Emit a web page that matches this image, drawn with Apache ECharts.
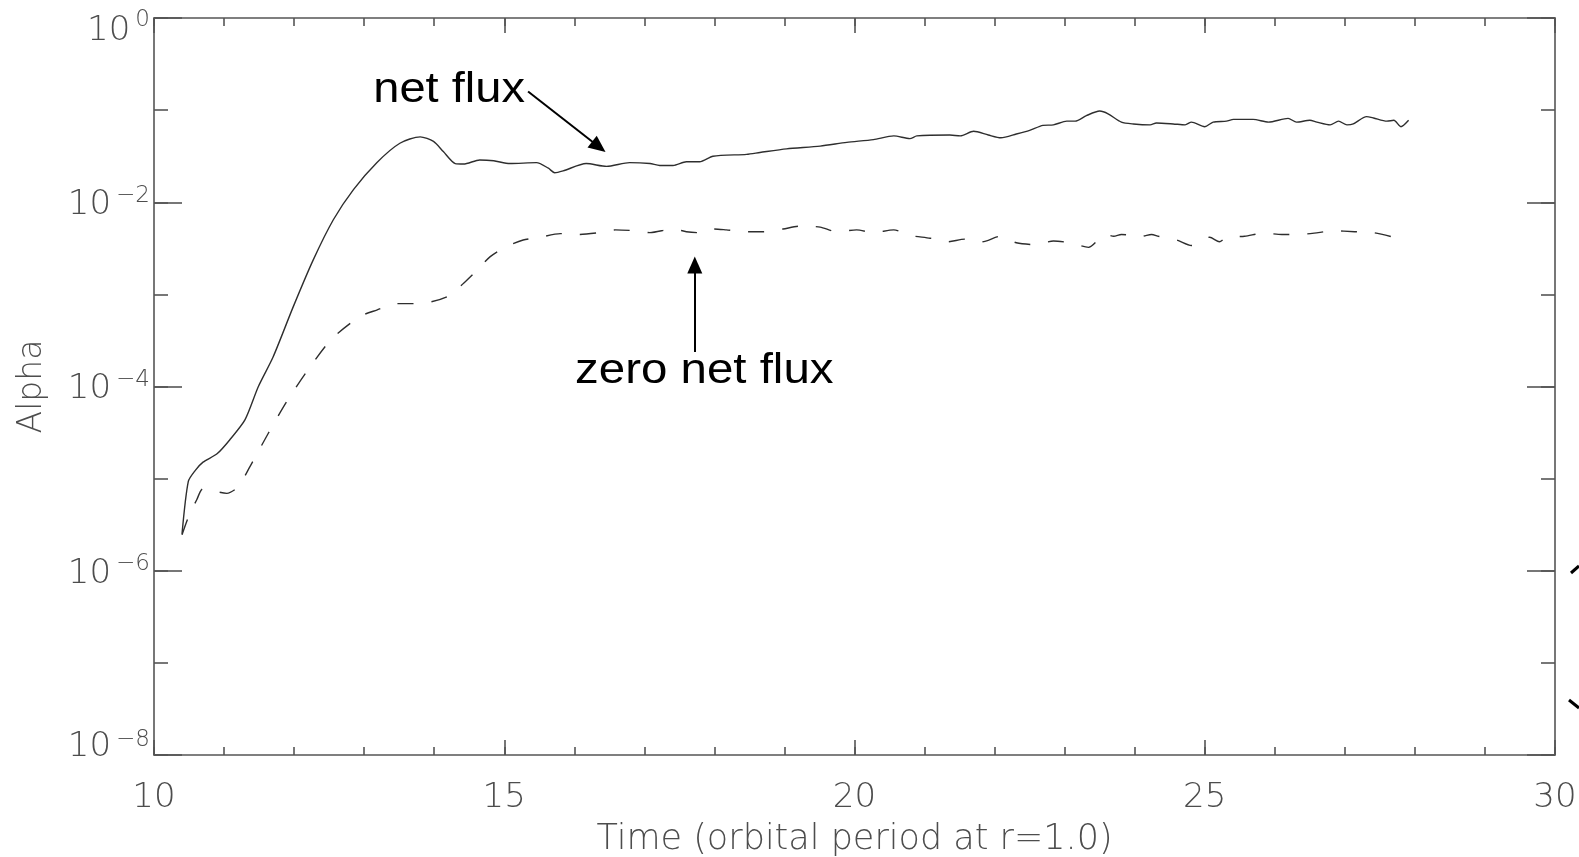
<!DOCTYPE html>
<html>
<head>
<meta charset="utf-8">
<title>Alpha vs time</title>
<script src="https://cdn.jsdelivr.net/npm/echarts@6/dist/echarts.min.js"></script>
<style>
  html, body { margin: 0; padding: 0; background: #fff; }
  #chart { width: 1579px; height: 857px; }
</style>
</head>
<body>
<div id="chart"></div>
<script>
// net flux run: time (orbital periods at r=1.0) and alpha
const netFluxTime = [10.40, 10.49, 10.59, 10.70, 10.90, 11.08, 11.30, 11.49, 11.70, 11.99,
  12.27, 12.56, 12.85, 13.18, 13.51, 13.80, 13.99, 14.13, 14.30, 14.42,
  14.65, 14.85, 15.08, 15.46, 15.63, 15.72, 15.84, 16.17, 16.46, 16.79,
  17.08, 17.22, 17.41, 17.60, 17.79, 17.98, 18.46, 18.65, 19.03, 19.51,
  19.89, 20.27, 20.56, 20.79, 20.89, 21.36, 21.51, 21.70, 21.91, 22.09,
  22.31, 22.50, 22.69, 22.84, 23.03, 23.15, 23.31, 23.50, 23.62, 23.81,
  23.98, 24.22, 24.31, 24.55, 24.72, 24.81, 25.00, 25.12, 25.31, 25.41,
  25.69, 25.91, 26.19, 26.31, 26.50, 26.60, 26.79, 26.91, 27.03, 27.12,
  27.31, 27.41, 27.60, 27.70, 27.80, 27.91]
const netFluxAlpha = [2.51e-6, 9.33e-6, 1.23e-5, 1.51e-5, 1.86e-5, 2.63e-5, 4.37e-5, 1.0e-4, 2.09e-4, 7.41e-4,
  2.34e-3, 6.46e-3, 1.38e-2, 2.69e-2, 4.37e-2, 5.13e-2, 4.57e-2, 3.55e-2, 2.63e-2, 2.60e-2,
  2.88e-2, 2.82e-2, 2.63e-2, 2.69e-2, 2.34e-2, 2.09e-2, 2.19e-2, 2.63e-2, 2.45e-2, 2.69e-2,
  2.63e-2, 2.51e-2, 2.51e-2, 2.75e-2, 2.75e-2, 3.16e-2, 3.31e-2, 3.47e-2, 3.80e-2, 4.07e-2,
  4.47e-2, 4.79e-2, 5.25e-2, 4.90e-2, 5.25e-2, 5.37e-2, 5.25e-2, 5.89e-2, 5.37e-2, 5.01e-2,
  5.50e-2, 6.03e-2, 6.84e-2, 6.92e-2, 7.59e-2, 7.59e-2, 8.71e-2, 9.77e-2, 9.12e-2, 7.41e-2,
  7.08e-2, 6.92e-2, 7.24e-2, 7.08e-2, 6.92e-2, 7.41e-2, 6.61e-2, 7.41e-2, 7.59e-2, 7.94e-2,
  7.94e-2, 7.41e-2, 8.13e-2, 7.41e-2, 7.76e-2, 7.41e-2, 6.92e-2, 7.59e-2, 6.92e-2, 7.08e-2,
  8.51e-2, 8.22e-2, 7.59e-2, 7.76e-2, 6.61e-2, 7.76e-2]

// zero net flux run
const zeroFluxTime = [10.40, 10.49, 10.61, 10.70, 11.04, 11.20, 11.37, 11.63, 11.89, 12.18,
  12.53, 12.94, 13.18, 13.46, 13.70, 13.96, 14.20, 14.42, 14.61, 14.80,
  15.03, 15.27, 15.51, 15.80, 16.06, 16.35, 16.59, 16.87, 17.08, 17.41,
  17.60, 17.77, 17.98, 18.17, 18.46, 18.70, 18.98, 19.22, 19.51, 19.74,
  20.03, 20.27, 20.56, 20.79, 21.08, 21.32, 21.58, 21.82, 22.08, 22.31,
  22.58, 22.84, 23.08, 23.34, 23.58, 23.70, 23.81, 24.10, 24.24, 24.34,
  24.60, 24.81, 25.07, 25.21, 25.31, 25.57, 25.84, 26.10, 26.34, 26.62,
  26.83, 27.14, 27.41, 27.70]
const zeroFluxAlpha = [2.45e-6, 3.80e-6, 5.89e-6, 7.76e-6, 6.92e-6, 8.13e-6, 1.35e-5, 3.09e-5, 6.76e-5, 1.45e-4,
  3.24e-4, 5.75e-4, 6.76e-4, 7.94e-4, 7.94e-4, 8.32e-4, 9.55e-4, 1.32e-3, 1.82e-3, 2.57e-3,
  3.31e-3, 3.89e-3, 4.17e-3, 4.57e-3, 4.47e-3, 4.68e-3, 5.01e-3, 4.90e-3, 4.68e-3, 5.13e-3,
  4.79e-3, 4.68e-3, 5.13e-3, 5.01e-3, 4.79e-3, 4.79e-3, 5.13e-3, 5.50e-3, 5.37e-3, 4.79e-3,
  5.01e-3, 4.68e-3, 5.01e-3, 4.37e-3, 4.07e-3, 3.72e-3, 3.98e-3, 3.72e-3, 4.27e-3, 3.63e-3,
  3.47e-3, 3.80e-3, 3.63e-3, 3.24e-3, 4.47e-3, 4.27e-3, 4.47e-3, 4.27e-3, 4.47e-3, 4.27e-3,
  3.89e-3, 3.39e-3, 4.17e-3, 3.72e-3, 4.17e-3, 4.27e-3, 4.62e-3, 4.47e-3, 4.47e-3, 4.68e-3,
  4.90e-3, 4.79e-3, 4.68e-3, 4.17e-3]

// tick labels
const xTickLabels = [10, 15, 20, 25, 30]
const yTickExponents = [-8, -6, -4, -2, 0]

// annotations (data coords): [x, alpha]
const netFluxArrow = [[15.34, 0.159], [16.35, 0.040]]
const zeroFluxArrow = [[17.72, 2.37e-4], [17.72, 2.09e-3]]
const netFluxTextAt = [13.13, 0.0964]
const zeroFluxTextAt = [16.01, 8.7e-5]

const axisColor = '#555'
const tickFont = 'DejaVu Sans'
const labelColor = '#4d4d4d'

function xAxisOf(position, step, tickLen, withLabels) {
  return {
    type: 'value',
    position: position,
    min: xTickLabels[0],
    max: xTickLabels[xTickLabels.length - 1],
    interval: step,
    name: withLabels ? 'Time (orbital period at r=1.0)' : '',
    nameLocation: 'middle',
    nameGap: 67,
    nameTextStyle: { fontFamily: tickFont, fontWeight: 200, fontSize: 35, color: labelColor },
    axisLine: { show: step === 5, lineStyle: { color: axisColor, width: 1.6 } },
    axisTick: { show: true, inside: true, length: tickLen, lineStyle: { color: axisColor, width: 1.6 } },
    axisLabel: {
      show: withLabels,
      margin: 26,
      fontFamily: tickFont,
      fontWeight: 200,
      fontSize: 34,
      color: labelColor
    },
    splitLine: { show: false }
  }
}

// "10" + superscript; padding nudges glyphs (end labels sit inside the frame)
function richPair(padB, padS) {
  return {
    b: { fontFamily: tickFont, fontWeight: 200, fontSize: 34, color: labelColor, lineHeight: 36, padding: padB },
    s: { fontFamily: tickFont, fontWeight: 200, fontSize: 23, color: labelColor, lineHeight: 36, padding: padS }
  }
}
const richMid = richPair([6, 0, 0, 0], [0, 0, 13, 5])
const richTop = richPair([27, 0, 0, 0], [5, 0, 0, 5])
const richBot = richPair([0, 0, 16, 0], [0, 0, 30, 5])

function yAxisOf(position, step, tickLen, withLabels) {
  return {
    type: 'log',
    logBase: 10,
    position: position,
    min: Math.pow(10, yTickExponents[0]),
    max: Math.pow(10, yTickExponents[yTickExponents.length - 1]),
    interval: step,
    name: withLabels ? 'Alpha' : '',
    nameLocation: 'middle',
    nameGap: 105,
    nameTextStyle: { fontFamily: tickFont, fontWeight: 200, fontSize: 33, color: labelColor },
    axisLine: { show: step === 2, lineStyle: { color: axisColor, width: 1.6 } },
    axisTick: { show: true, inside: true, length: tickLen, lineStyle: { color: axisColor, width: 1.6 } },
    axisLabel: {
      show: withLabels,
      margin: 4,
      formatter: function (v) {
        const e = Math.round(Math.log10(v))
        if (yTickExponents.indexOf(e) < 0) return ''
        const k = e === yTickExponents[yTickExponents.length - 1] ? 't' : (e === yTickExponents[0] ? 'm' : '')
        return '{b' + k + '|10}{s' + k + '|' + (e < 0 ? '\u2212' : '') + Math.abs(e) + '}'
      },
      rich: {
        b: richMid.b, s: richMid.s,
        bt: richTop.b, st: richTop.s,
        bm: richBot.b, sm: richBot.s
      }
    },
    splitLine: { show: false }
  }
}

const chart = echarts.init(document.getElementById('chart'), null, { renderer: 'canvas' })

const arrowLine = { color: '#000', width: 2, type: 'solid' }

chart.setOption({
  animation: false,
  backgroundColor: '#fff',
  grid: { left: 154, right: 24, top: 18, bottom: 102, containLabel: false, outerBoundsMode: 'none' },
  xAxis: [
    xAxisOf('bottom', 5, 15, true),
    xAxisOf('bottom', 1, 8, false),
    xAxisOf('top', 5, 15, false),
    xAxisOf('top', 1, 8, false)
  ],
  yAxis: [
    yAxisOf('left', 2, 28, true),
    yAxisOf('left', 1, 14, false),
    yAxisOf('right', 2, 28, false),
    yAxisOf('right', 1, 14, false)
  ],
  series: [
    {
      name: 'net flux',
      type: 'line',
      xAxisIndex: 0,
      yAxisIndex: 0,
      showSymbol: false,
      smooth: 0.25,
      data: netFluxTime.map((t, i) => [t, netFluxAlpha[i]]),
      lineStyle: { color: '#2e2e2e', width: 1.4 },
      markLine: {
        silent: true,
        symbol: ['none', 'triangle'],
        symbolSize: [15, 17],
        label: { show: false },
        lineStyle: arrowLine,
        data: [
          [{ coord: netFluxArrow[0] }, { coord: netFluxArrow[1] }],
          [{ coord: zeroFluxArrow[0] }, { coord: zeroFluxArrow[1] }]
        ]
      }
    },
    {
      name: 'zero net flux',
      type: 'line',
      xAxisIndex: 0,
      yAxisIndex: 0,
      showSymbol: false,
      smooth: 0.25,
      data: zeroFluxTime.map((t, i) => [t, zeroFluxAlpha[i]]),
      lineStyle: { color: '#2e2e2e', width: 1.4, type: [16, 18] }
    }
  ]
})

// text annotations placed from data coords
const p1 = chart.convertToPixel({ xAxisIndex: 0, yAxisIndex: 0 }, netFluxTextAt)
const p2 = chart.convertToPixel({ xAxisIndex: 0, yAxisIndex: 0 }, zeroFluxTextAt)
const annFont = { fontFamily: 'Liberation Sans', fontSize: 42, fill: '#000' }

chart.setOption({
  graphic: [
    {
      type: 'text', x: p1[0], y: p1[1], scaleX: 1.12, originX: 0, originY: 0,
      style: Object.assign({ text: 'net flux', align: 'left', verticalAlign: 'bottom' }, annFont)
    },
    {
      type: 'text', x: p2[0], y: p2[1], scaleX: 1.13, originX: 0, originY: 0,
      style: Object.assign({ text: 'zero net flux', align: 'left', verticalAlign: 'bottom' }, annFont)
    },
    // cropped bracket from the neighbouring panel at the right edge
    { type: 'line', shape: { x1: 1571, y1: 573, x2: 1579, y2: 566 }, style: { stroke: '#000', lineWidth: 3 } },
    { type: 'line', shape: { x1: 1569, y1: 700, x2: 1579, y2: 708 }, style: { stroke: '#000', lineWidth: 3 } }
  ]
})
</script>
</body>
</html>
